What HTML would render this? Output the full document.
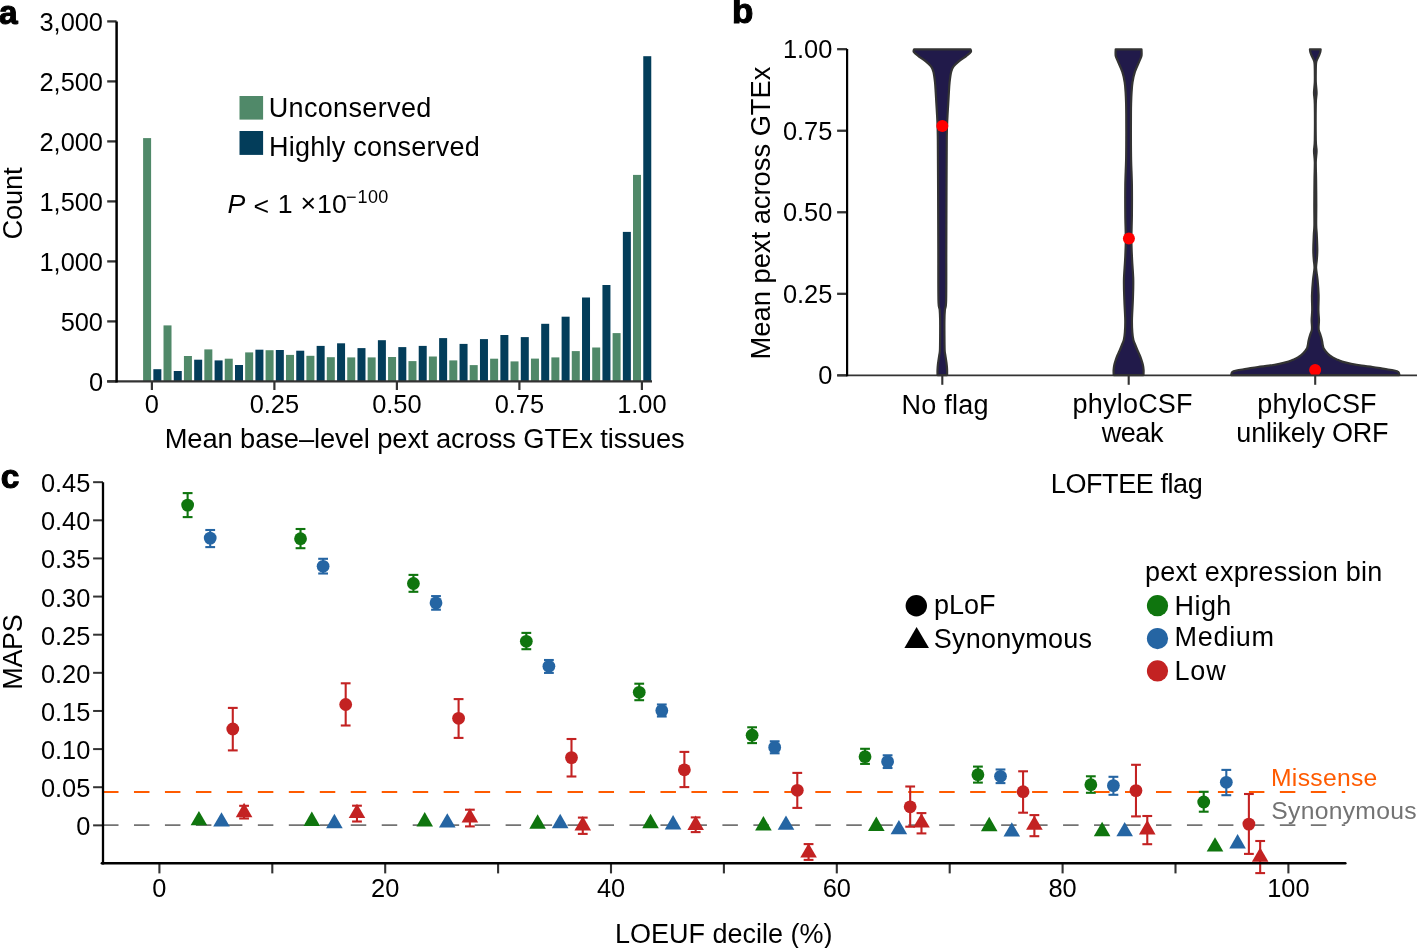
<!DOCTYPE html>
<html><head><meta charset="utf-8"><title>Figure</title>
<style>
html,body{margin:0;padding:0;background:#fff;width:1417px;height:948px;overflow:hidden;}
svg{display:block;font-family:"Liberation Sans", sans-serif;will-change:transform;}
</style></head>
<body>
<svg width="1417" height="948" viewBox="0 0 1417 948">
<rect x="0" y="0" width="1417" height="948" fill="#fff"/>
<g shape-rendering="auto">
<rect x="143.10" y="138.1" width="8.0" height="243.3" fill="#508969"/>
<rect x="153.35" y="369.2" width="8.0" height="12.2" fill="#033d5a"/>
<rect x="163.51" y="325.4" width="8.0" height="56.0" fill="#508969"/>
<rect x="173.76" y="371.0" width="8.0" height="10.4" fill="#033d5a"/>
<rect x="183.93" y="356.0" width="8.0" height="25.4" fill="#508969"/>
<rect x="194.18" y="359.7" width="8.0" height="21.7" fill="#033d5a"/>
<rect x="204.34" y="349.4" width="8.0" height="32.0" fill="#508969"/>
<rect x="214.59" y="360.4" width="8.0" height="21.0" fill="#033d5a"/>
<rect x="224.75" y="358.7" width="8.0" height="22.7" fill="#508969"/>
<rect x="235.00" y="365.0" width="8.0" height="16.4" fill="#033d5a"/>
<rect x="245.16" y="352.4" width="8.0" height="29.0" fill="#508969"/>
<rect x="255.41" y="349.7" width="8.0" height="31.7" fill="#033d5a"/>
<rect x="265.58" y="350.2" width="8.0" height="31.2" fill="#508969"/>
<rect x="275.83" y="350.0" width="8.0" height="31.4" fill="#033d5a"/>
<rect x="285.99" y="354.9" width="8.0" height="26.5" fill="#508969"/>
<rect x="296.24" y="350.7" width="8.0" height="30.7" fill="#033d5a"/>
<rect x="306.40" y="355.8" width="8.0" height="25.6" fill="#508969"/>
<rect x="316.65" y="345.9" width="8.0" height="35.5" fill="#033d5a"/>
<rect x="326.82" y="357.2" width="8.0" height="24.2" fill="#508969"/>
<rect x="337.07" y="343.3" width="8.0" height="38.1" fill="#033d5a"/>
<rect x="347.23" y="357.4" width="8.0" height="24.0" fill="#508969"/>
<rect x="357.48" y="348.1" width="8.0" height="33.3" fill="#033d5a"/>
<rect x="367.64" y="357.4" width="8.0" height="24.0" fill="#508969"/>
<rect x="377.89" y="340.2" width="8.0" height="41.2" fill="#033d5a"/>
<rect x="388.06" y="357.0" width="8.0" height="24.4" fill="#508969"/>
<rect x="398.31" y="347.1" width="8.0" height="34.3" fill="#033d5a"/>
<rect x="408.47" y="361.1" width="8.0" height="20.3" fill="#508969"/>
<rect x="418.72" y="345.9" width="8.0" height="35.5" fill="#033d5a"/>
<rect x="428.88" y="356.5" width="8.0" height="24.9" fill="#508969"/>
<rect x="439.13" y="338.1" width="8.0" height="43.3" fill="#033d5a"/>
<rect x="449.30" y="360.4" width="8.0" height="21.0" fill="#508969"/>
<rect x="459.55" y="343.9" width="8.0" height="37.5" fill="#033d5a"/>
<rect x="469.71" y="365.1" width="8.0" height="16.3" fill="#508969"/>
<rect x="479.96" y="339.1" width="8.0" height="42.3" fill="#033d5a"/>
<rect x="490.12" y="358.7" width="8.0" height="22.7" fill="#508969"/>
<rect x="500.37" y="335.0" width="8.0" height="46.4" fill="#033d5a"/>
<rect x="510.53" y="361.4" width="8.0" height="20.0" fill="#508969"/>
<rect x="520.78" y="337.1" width="8.0" height="44.3" fill="#033d5a"/>
<rect x="530.95" y="358.6" width="8.0" height="22.8" fill="#508969"/>
<rect x="541.20" y="323.8" width="8.0" height="57.6" fill="#033d5a"/>
<rect x="551.36" y="357.4" width="8.0" height="24.0" fill="#508969"/>
<rect x="561.61" y="316.7" width="8.0" height="64.7" fill="#033d5a"/>
<rect x="571.77" y="351.1" width="8.0" height="30.3" fill="#508969"/>
<rect x="582.02" y="297.5" width="8.0" height="83.9" fill="#033d5a"/>
<rect x="592.19" y="347.5" width="8.0" height="33.9" fill="#508969"/>
<rect x="602.44" y="285.0" width="8.0" height="96.4" fill="#033d5a"/>
<rect x="612.60" y="333.1" width="8.0" height="48.3" fill="#508969"/>
<rect x="622.85" y="231.9" width="8.0" height="149.5" fill="#033d5a"/>
<rect x="633.01" y="174.9" width="8.0" height="206.5" fill="#508969"/>
<rect x="643.26" y="56.2" width="8.0" height="325.2" fill="#033d5a"/>
</g>
<line x1="107.10" y1="381.40" x2="652.00" y2="381.40" stroke="#333333" stroke-width="2.4"/>
<line x1="151.90" y1="381.40" x2="151.90" y2="390.00" stroke="#333333" stroke-width="2.2"/>
<text x="151.9" y="413.4" font-size="25.4" text-anchor="middle">0</text>
<line x1="274.40" y1="381.40" x2="274.40" y2="390.00" stroke="#333333" stroke-width="2.2"/>
<text x="274.4" y="413.4" font-size="25.4" text-anchor="middle">0.25</text>
<line x1="396.90" y1="381.40" x2="396.90" y2="390.00" stroke="#333333" stroke-width="2.2"/>
<text x="396.9" y="413.4" font-size="25.4" text-anchor="middle">0.50</text>
<line x1="519.40" y1="381.40" x2="519.40" y2="390.00" stroke="#333333" stroke-width="2.2"/>
<text x="519.4" y="413.4" font-size="25.4" text-anchor="middle">0.75</text>
<line x1="641.90" y1="381.40" x2="641.90" y2="390.00" stroke="#333333" stroke-width="2.2"/>
<text x="641.9" y="413.4" font-size="25.4" text-anchor="middle">1.00</text>
<line x1="107.20" y1="381.40" x2="116.60" y2="381.40" stroke="#333333" stroke-width="2.3"/>
<text x="103.0" y="391.0" font-size="25.4" text-anchor="end">0</text>
<line x1="107.20" y1="321.40" x2="116.60" y2="321.40" stroke="#333333" stroke-width="2.3"/>
<text x="103.0" y="331.0" font-size="25.4" text-anchor="end">500</text>
<line x1="107.20" y1="261.40" x2="116.60" y2="261.40" stroke="#333333" stroke-width="2.3"/>
<text x="103.0" y="271.0" font-size="25.4" text-anchor="end">1,000</text>
<line x1="107.20" y1="201.40" x2="116.60" y2="201.40" stroke="#333333" stroke-width="2.3"/>
<text x="103.0" y="211.0" font-size="25.4" text-anchor="end">1,500</text>
<line x1="107.20" y1="141.40" x2="116.60" y2="141.40" stroke="#333333" stroke-width="2.3"/>
<text x="103.0" y="151.0" font-size="25.4" text-anchor="end">2,000</text>
<line x1="107.20" y1="81.40" x2="116.60" y2="81.40" stroke="#333333" stroke-width="2.3"/>
<text x="103.0" y="91.0" font-size="25.4" text-anchor="end">2,500</text>
<line x1="107.20" y1="21.40" x2="116.60" y2="21.40" stroke="#333333" stroke-width="2.3"/>
<text x="103.0" y="31.0" font-size="25.4" text-anchor="end">3,000</text>
<line x1="116.60" y1="21.40" x2="116.60" y2="382.60" stroke="#000" stroke-width="2.5"/>
<rect x="239.5" y="96" width="23.6" height="23.6" fill="#508969"/>
<rect x="239.5" y="131" width="23.6" height="23.9" fill="#033d5a"/>
<path d="M914.10,49.30 L970.50,49.30 C970.55,49.75 971.47,50.92 970.80,52.00 C970.13,53.08 968.45,54.28 966.50,55.80 C964.55,57.32 961.25,59.33 959.10,61.10 C956.95,62.87 954.92,64.63 953.60,66.40 C952.28,68.17 951.87,69.07 951.20,71.70 C950.53,74.33 949.99,78.68 949.60,82.20 C949.21,85.72 949.07,89.28 948.85,92.80 C948.62,96.32 948.46,99.78 948.25,103.30 C948.04,106.82 947.79,110.38 947.60,113.90 C947.41,117.42 947.24,120.05 947.10,124.40 C946.96,128.75 946.85,129.07 946.75,140.00 C946.65,150.93 946.58,171.67 946.50,190.00 C946.42,208.33 946.36,231.67 946.30,250.00 C946.24,268.33 946.38,290.00 946.15,300.00 C945.92,310.00 945.18,306.67 944.90,310.00 C944.62,313.33 944.52,315.83 944.45,320.00 C944.37,324.17 944.42,330.00 944.45,335.00 C944.48,340.00 944.51,346.67 944.65,350.00 C944.79,353.33 945.07,353.33 945.30,355.00 C945.53,356.67 945.81,358.33 946.05,360.00 C946.29,361.67 946.58,363.33 946.75,365.00 C946.92,366.67 947.04,368.32 947.10,370.00 C947.16,371.68 947.10,374.21 947.10,375.05 L937.50,375.05 C937.50,374.21 937.44,371.68 937.50,370.00 C937.56,368.32 937.67,366.67 937.85,365.00 C938.02,363.33 938.31,361.67 938.55,360.00 C938.79,358.33 939.07,356.67 939.30,355.00 C939.53,353.33 939.81,353.33 939.95,350.00 C940.09,346.67 940.12,340.00 940.15,335.00 C940.18,330.00 940.23,324.17 940.15,320.00 C940.07,315.83 939.98,313.33 939.70,310.00 C939.42,306.67 938.68,310.00 938.45,300.00 C938.22,290.00 938.36,268.33 938.30,250.00 C938.24,231.67 938.17,208.33 938.10,190.00 C938.02,171.67 937.95,150.93 937.85,140.00 C937.75,129.07 937.64,128.75 937.50,124.40 C937.36,120.05 937.19,117.42 937.00,113.90 C936.81,110.38 936.56,106.82 936.35,103.30 C936.14,99.78 935.98,96.32 935.75,92.80 C935.52,89.28 935.39,85.72 935.00,82.20 C934.61,78.68 934.07,74.33 933.40,71.70 C932.73,69.07 932.32,68.17 931.00,66.40 C929.68,64.63 927.65,62.87 925.50,61.10 C923.35,59.33 920.05,57.32 918.10,55.80 C916.15,54.28 914.47,53.08 913.80,52.00 C913.13,50.92 914.05,49.75 914.10,49.30 Z" fill="#211a4a" stroke="#333333" stroke-width="2.2" stroke-linejoin="round"/>
<path d="M1115.70,49.30 L1141.50,49.30 C1141.50,50.38 1141.85,53.83 1141.50,55.80 C1141.15,57.77 1140.49,58.45 1139.40,61.10 C1138.31,63.75 1136.10,68.18 1134.95,71.70 C1133.80,75.22 1133.07,78.68 1132.50,82.20 C1131.93,85.72 1131.78,89.28 1131.55,92.80 C1131.32,96.32 1131.20,99.78 1131.10,103.30 C1131.00,106.82 1130.98,108.62 1130.95,113.90 C1130.92,119.18 1130.87,127.32 1130.90,135.00 C1130.92,142.68 1130.93,151.67 1131.10,160.00 C1131.27,168.33 1131.77,175.83 1131.90,185.00 C1132.03,194.17 1131.98,205.83 1131.90,215.00 C1131.82,224.17 1131.37,232.50 1131.40,240.00 C1131.43,247.50 1131.79,253.33 1132.10,260.00 C1132.41,266.67 1133.12,273.33 1133.25,280.00 C1133.38,286.67 1133.07,293.33 1132.85,300.00 C1132.63,306.67 1132.04,314.67 1131.95,320.00 C1131.86,325.33 1132.06,328.67 1132.30,332.00 C1132.54,335.33 1132.90,337.83 1133.40,340.00 C1133.90,342.17 1134.64,343.33 1135.30,345.00 C1135.96,346.67 1136.63,348.33 1137.35,350.00 C1138.07,351.67 1138.91,353.33 1139.60,355.00 C1140.29,356.67 1140.95,358.33 1141.50,360.00 C1142.05,361.67 1142.55,363.33 1142.90,365.00 C1143.25,366.67 1143.50,368.32 1143.60,370.00 C1143.70,371.68 1143.52,374.21 1143.50,375.05 L1113.70,375.05 C1113.68,374.21 1113.50,371.68 1113.60,370.00 C1113.70,368.32 1113.95,366.67 1114.30,365.00 C1114.65,363.33 1115.15,361.67 1115.70,360.00 C1116.25,358.33 1116.91,356.67 1117.60,355.00 C1118.29,353.33 1119.13,351.67 1119.85,350.00 C1120.57,348.33 1121.24,346.67 1121.90,345.00 C1122.56,343.33 1123.30,342.17 1123.80,340.00 C1124.30,337.83 1124.66,335.33 1124.90,332.00 C1125.14,328.67 1125.34,325.33 1125.25,320.00 C1125.16,314.67 1124.57,306.67 1124.35,300.00 C1124.13,293.33 1123.82,286.67 1123.95,280.00 C1124.07,273.33 1124.79,266.67 1125.10,260.00 C1125.41,253.33 1125.77,247.50 1125.80,240.00 C1125.83,232.50 1125.38,224.17 1125.30,215.00 C1125.22,205.83 1125.17,194.17 1125.30,185.00 C1125.43,175.83 1125.93,168.33 1126.10,160.00 C1126.27,151.67 1126.27,142.68 1126.30,135.00 C1126.33,127.32 1126.28,119.18 1126.25,113.90 C1126.22,108.62 1126.20,106.82 1126.10,103.30 C1126.00,99.78 1125.88,96.32 1125.65,92.80 C1125.42,89.28 1125.27,85.72 1124.70,82.20 C1124.13,78.68 1123.40,75.22 1122.25,71.70 C1121.10,68.18 1118.89,63.75 1117.80,61.10 C1116.71,58.45 1116.05,57.77 1115.70,55.80 C1115.35,53.83 1115.70,50.38 1115.70,49.30 Z" fill="#211a4a" stroke="#333333" stroke-width="2.2" stroke-linejoin="round"/>
<path d="M1309.95,49.30 L1320.65,49.30 C1320.59,49.75 1320.54,51.05 1320.30,52.00 C1320.06,52.95 1319.62,54.00 1319.20,55.00 C1318.78,56.00 1318.25,57.00 1317.80,58.00 C1317.35,59.00 1316.80,60.00 1316.50,61.00 C1316.20,62.00 1316.12,62.50 1316.00,64.00 C1315.88,65.50 1315.83,67.00 1315.80,70.00 C1315.77,73.00 1315.67,78.17 1315.80,82.00 C1315.93,85.83 1316.60,89.33 1316.60,93.00 C1316.60,96.67 1315.93,96.17 1315.80,104.00 C1315.67,111.83 1315.67,132.17 1315.80,140.00 C1315.93,147.83 1316.60,147.33 1316.60,151.00 C1316.60,154.67 1315.88,157.17 1315.80,162.00 C1315.72,166.83 1316.02,172.83 1316.10,180.00 C1316.18,187.17 1316.28,197.50 1316.30,205.00 C1316.32,212.50 1316.12,220.00 1316.20,225.00 C1316.28,230.00 1316.62,230.83 1316.80,235.00 C1316.98,239.17 1317.30,245.83 1317.30,250.00 C1317.30,254.17 1317.00,257.00 1316.80,260.00 C1316.60,263.00 1315.97,264.67 1316.10,268.00 C1316.23,271.33 1317.18,275.50 1317.60,280.00 C1318.02,284.50 1318.47,290.00 1318.60,295.00 C1318.73,300.00 1318.34,305.83 1318.40,310.00 C1318.46,314.17 1318.93,317.17 1318.96,320.00 C1318.99,322.83 1318.62,325.23 1318.60,327.00 C1318.58,328.77 1318.59,329.42 1318.86,330.60 C1319.13,331.78 1319.80,332.93 1320.20,334.10 C1320.60,335.27 1320.94,336.42 1321.26,337.60 C1321.58,338.78 1321.90,340.02 1322.14,341.20 C1322.37,342.38 1322.43,343.53 1322.67,344.70 C1322.90,345.87 1323.17,347.27 1323.55,348.20 C1323.93,349.13 1324.32,349.47 1324.96,350.30 C1325.60,351.13 1326.61,352.37 1327.40,353.20 C1328.19,354.03 1328.82,354.60 1329.70,355.30 C1330.58,356.00 1331.52,356.70 1332.70,357.40 C1333.88,358.10 1335.23,358.80 1336.80,359.50 C1338.37,360.20 1339.70,360.88 1342.10,361.60 C1344.50,362.32 1347.93,363.12 1351.20,363.80 C1354.47,364.48 1358.12,365.17 1361.70,365.70 C1365.28,366.23 1368.95,366.47 1372.70,367.00 C1376.45,367.53 1380.62,368.32 1384.20,368.90 C1387.78,369.48 1391.83,369.98 1394.20,370.50 C1396.57,371.02 1397.53,371.24 1398.40,372.00 C1399.27,372.76 1399.23,374.54 1399.40,375.05 L1231.20,375.05 C1231.37,374.54 1231.33,372.76 1232.20,372.00 C1233.07,371.24 1234.03,371.02 1236.40,370.50 C1238.77,369.98 1242.82,369.48 1246.40,368.90 C1249.98,368.32 1254.15,367.53 1257.90,367.00 C1261.65,366.47 1265.32,366.23 1268.90,365.70 C1272.48,365.17 1276.13,364.48 1279.40,363.80 C1282.67,363.12 1286.10,362.32 1288.50,361.60 C1290.90,360.88 1292.23,360.20 1293.80,359.50 C1295.37,358.80 1296.72,358.10 1297.90,357.40 C1299.08,356.70 1300.02,356.00 1300.90,355.30 C1301.78,354.60 1302.41,354.03 1303.20,353.20 C1303.99,352.37 1305.00,351.13 1305.64,350.30 C1306.28,349.47 1306.67,349.13 1307.05,348.20 C1307.43,347.27 1307.70,345.87 1307.93,344.70 C1308.16,343.53 1308.23,342.38 1308.46,341.20 C1308.69,340.02 1309.02,338.78 1309.34,337.60 C1309.66,336.42 1310.00,335.27 1310.40,334.10 C1310.80,332.93 1311.47,331.78 1311.74,330.60 C1312.01,329.42 1312.02,328.77 1312.00,327.00 C1311.98,325.23 1311.61,322.83 1311.64,320.00 C1311.67,317.17 1312.14,314.17 1312.20,310.00 C1312.26,305.83 1311.87,300.00 1312.00,295.00 C1312.13,290.00 1312.58,284.50 1313.00,280.00 C1313.42,275.50 1314.37,271.33 1314.50,268.00 C1314.63,264.67 1314.00,263.00 1313.80,260.00 C1313.60,257.00 1313.30,254.17 1313.30,250.00 C1313.30,245.83 1313.62,239.17 1313.80,235.00 C1313.98,230.83 1314.32,230.00 1314.40,225.00 C1314.48,220.00 1314.28,212.50 1314.30,205.00 C1314.32,197.50 1314.42,187.17 1314.50,180.00 C1314.58,172.83 1314.88,166.83 1314.80,162.00 C1314.72,157.17 1314.00,154.67 1314.00,151.00 C1314.00,147.33 1314.67,147.83 1314.80,140.00 C1314.93,132.17 1314.93,111.83 1314.80,104.00 C1314.67,96.17 1314.00,96.67 1314.00,93.00 C1314.00,89.33 1314.67,85.83 1314.80,82.00 C1314.93,78.17 1314.83,73.00 1314.80,70.00 C1314.77,67.00 1314.72,65.50 1314.60,64.00 C1314.48,62.50 1314.40,62.00 1314.10,61.00 C1313.80,60.00 1313.25,59.00 1312.80,58.00 C1312.35,57.00 1311.82,56.00 1311.40,55.00 C1310.98,54.00 1310.54,52.95 1310.30,52.00 C1310.06,51.05 1310.01,49.75 1309.95,49.30 Z" fill="#211a4a" stroke="#333333" stroke-width="2.2" stroke-linejoin="round"/>
<circle cx="942.3" cy="126" r="6.0" fill="#ff0000"/>
<circle cx="1128.9" cy="238.4" r="6.0" fill="#ff0000"/>
<circle cx="1315.15" cy="369.9" r="6.0" fill="#ff0000"/>
<line x1="837.30" y1="375.35" x2="1417.00" y2="375.35" stroke="#333333" stroke-width="1.9"/>
<line x1="942.30" y1="375.35" x2="942.30" y2="384.80" stroke="#333333" stroke-width="2.1"/>
<line x1="1128.70" y1="375.35" x2="1128.70" y2="384.80" stroke="#333333" stroke-width="2.1"/>
<line x1="1315.20" y1="375.35" x2="1315.20" y2="384.80" stroke="#333333" stroke-width="2.1"/>
<line x1="837.10" y1="375.35" x2="847.10" y2="375.35" stroke="#333333" stroke-width="2.3"/>
<text x="832.3" y="384.4" font-size="25.4" text-anchor="end">0</text>
<line x1="837.10" y1="293.81" x2="847.10" y2="293.81" stroke="#333333" stroke-width="2.3"/>
<text x="832.3" y="302.8" font-size="25.4" text-anchor="end">0.25</text>
<line x1="837.10" y1="212.27" x2="847.10" y2="212.27" stroke="#333333" stroke-width="2.3"/>
<text x="832.3" y="221.3" font-size="25.4" text-anchor="end">0.50</text>
<line x1="837.10" y1="130.73" x2="847.10" y2="130.73" stroke="#333333" stroke-width="2.3"/>
<text x="832.3" y="139.7" font-size="25.4" text-anchor="end">0.75</text>
<line x1="837.10" y1="49.19" x2="847.10" y2="49.19" stroke="#333333" stroke-width="2.3"/>
<text x="832.3" y="58.2" font-size="25.4" text-anchor="end">1.00</text>
<line x1="847.10" y1="49.10" x2="847.10" y2="376.35" stroke="#000" stroke-width="2.2"/>
<line x1="103.00" y1="792.00" x2="1345.20" y2="792.00" stroke="#ff5b00" stroke-width="2.2" stroke-dasharray="15.5 15.47"/>
<line x1="103.00" y1="825.10" x2="1345.20" y2="825.10" stroke="#737373" stroke-width="1.9" stroke-dasharray="15.5 15.47"/>
<line x1="187.62" y1="493.10" x2="187.62" y2="517.10" stroke="#0f750e" stroke-width="2.1"/>
<line x1="182.72" y1="493.10" x2="192.53" y2="493.10" stroke="#0f750e" stroke-width="2.1"/>
<line x1="182.72" y1="517.10" x2="192.53" y2="517.10" stroke="#0f750e" stroke-width="2.1"/>
<circle cx="187.62" cy="505.10" r="6.4" fill="#0f750e"/>
<line x1="210.20" y1="530.00" x2="210.20" y2="547.10" stroke="#2565a3" stroke-width="2.1"/>
<line x1="205.30" y1="530.00" x2="215.10" y2="530.00" stroke="#2565a3" stroke-width="2.1"/>
<line x1="205.30" y1="547.10" x2="215.10" y2="547.10" stroke="#2565a3" stroke-width="2.1"/>
<circle cx="210.20" cy="538.10" r="6.4" fill="#2565a3"/>
<line x1="232.78" y1="707.90" x2="232.78" y2="750.40" stroke="#c32222" stroke-width="2.1"/>
<line x1="227.88" y1="707.90" x2="237.69" y2="707.90" stroke="#c32222" stroke-width="2.1"/>
<line x1="227.88" y1="750.40" x2="237.69" y2="750.40" stroke="#c32222" stroke-width="2.1"/>
<circle cx="232.78" cy="729.00" r="6.4" fill="#c32222"/>
<polygon points="198.92,810.90 207.22,825.30 190.62,825.30" fill="#0f750e"/>
<polygon points="221.50,812.20 229.80,826.60 213.19,826.60" fill="#2565a3"/>
<line x1="244.07" y1="805.80" x2="244.07" y2="818.50" stroke="#c32222" stroke-width="2.1"/>
<line x1="239.17" y1="805.80" x2="248.97" y2="805.80" stroke="#c32222" stroke-width="2.1"/>
<line x1="239.17" y1="818.50" x2="248.97" y2="818.50" stroke="#c32222" stroke-width="2.1"/>
<polygon points="244.07,802.80 252.38,817.20 235.77,817.20" fill="#c32222"/>
<line x1="300.52" y1="529.00" x2="300.52" y2="548.20" stroke="#0f750e" stroke-width="2.1"/>
<line x1="295.62" y1="529.00" x2="305.42" y2="529.00" stroke="#0f750e" stroke-width="2.1"/>
<line x1="295.62" y1="548.20" x2="305.42" y2="548.20" stroke="#0f750e" stroke-width="2.1"/>
<circle cx="300.52" cy="538.70" r="6.4" fill="#0f750e"/>
<line x1="323.11" y1="558.80" x2="323.11" y2="573.50" stroke="#2565a3" stroke-width="2.1"/>
<line x1="318.21" y1="558.80" x2="328.00" y2="558.80" stroke="#2565a3" stroke-width="2.1"/>
<line x1="318.21" y1="573.50" x2="328.00" y2="573.50" stroke="#2565a3" stroke-width="2.1"/>
<circle cx="323.11" cy="566.30" r="6.4" fill="#2565a3"/>
<line x1="345.69" y1="683.30" x2="345.69" y2="725.50" stroke="#c32222" stroke-width="2.1"/>
<line x1="340.79" y1="683.30" x2="350.58" y2="683.30" stroke="#c32222" stroke-width="2.1"/>
<line x1="340.79" y1="725.50" x2="350.58" y2="725.50" stroke="#c32222" stroke-width="2.1"/>
<circle cx="345.69" cy="704.50" r="6.4" fill="#c32222"/>
<polygon points="311.81,811.60 320.12,826.00 303.51,826.00" fill="#0f750e"/>
<polygon points="334.39,813.80 342.69,828.20 326.09,828.20" fill="#2565a3"/>
<line x1="356.98" y1="805.70" x2="356.98" y2="821.50" stroke="#c32222" stroke-width="2.1"/>
<line x1="352.08" y1="805.70" x2="361.88" y2="805.70" stroke="#c32222" stroke-width="2.1"/>
<line x1="352.08" y1="821.50" x2="361.88" y2="821.50" stroke="#c32222" stroke-width="2.1"/>
<polygon points="356.98,803.70 365.28,818.10 348.68,818.10" fill="#c32222"/>
<line x1="413.42" y1="574.90" x2="413.42" y2="591.80" stroke="#0f750e" stroke-width="2.1"/>
<line x1="408.52" y1="574.90" x2="418.32" y2="574.90" stroke="#0f750e" stroke-width="2.1"/>
<line x1="408.52" y1="591.80" x2="418.32" y2="591.80" stroke="#0f750e" stroke-width="2.1"/>
<circle cx="413.42" cy="583.50" r="6.4" fill="#0f750e"/>
<line x1="436.00" y1="596.10" x2="436.00" y2="609.70" stroke="#2565a3" stroke-width="2.1"/>
<line x1="431.11" y1="596.10" x2="440.90" y2="596.10" stroke="#2565a3" stroke-width="2.1"/>
<line x1="431.11" y1="609.70" x2="440.90" y2="609.70" stroke="#2565a3" stroke-width="2.1"/>
<circle cx="436.00" cy="602.90" r="6.4" fill="#2565a3"/>
<line x1="458.59" y1="699.10" x2="458.59" y2="737.90" stroke="#c32222" stroke-width="2.1"/>
<line x1="453.69" y1="699.10" x2="463.49" y2="699.10" stroke="#c32222" stroke-width="2.1"/>
<line x1="453.69" y1="737.90" x2="463.49" y2="737.90" stroke="#c32222" stroke-width="2.1"/>
<circle cx="458.59" cy="718.30" r="6.4" fill="#c32222"/>
<polygon points="424.72,812.00 433.02,826.40 416.42,826.40" fill="#0f750e"/>
<polygon points="447.29,813.20 455.59,827.60 438.99,827.60" fill="#2565a3"/>
<line x1="469.88" y1="809.70" x2="469.88" y2="826.40" stroke="#c32222" stroke-width="2.1"/>
<line x1="464.98" y1="809.70" x2="474.77" y2="809.70" stroke="#c32222" stroke-width="2.1"/>
<line x1="464.98" y1="826.40" x2="474.77" y2="826.40" stroke="#c32222" stroke-width="2.1"/>
<polygon points="469.88,808.20 478.18,822.60 461.57,822.60" fill="#c32222"/>
<line x1="526.32" y1="632.90" x2="526.32" y2="649.20" stroke="#0f750e" stroke-width="2.1"/>
<line x1="521.42" y1="632.90" x2="531.22" y2="632.90" stroke="#0f750e" stroke-width="2.1"/>
<line x1="521.42" y1="649.20" x2="531.22" y2="649.20" stroke="#0f750e" stroke-width="2.1"/>
<circle cx="526.32" cy="641.30" r="6.4" fill="#0f750e"/>
<line x1="548.90" y1="660.00" x2="548.90" y2="672.90" stroke="#2565a3" stroke-width="2.1"/>
<line x1="544.00" y1="660.00" x2="553.80" y2="660.00" stroke="#2565a3" stroke-width="2.1"/>
<line x1="544.00" y1="672.90" x2="553.80" y2="672.90" stroke="#2565a3" stroke-width="2.1"/>
<circle cx="548.90" cy="666.30" r="6.4" fill="#2565a3"/>
<line x1="571.49" y1="739.00" x2="571.49" y2="776.50" stroke="#c32222" stroke-width="2.1"/>
<line x1="566.59" y1="739.00" x2="576.38" y2="739.00" stroke="#c32222" stroke-width="2.1"/>
<line x1="566.59" y1="776.50" x2="576.38" y2="776.50" stroke="#c32222" stroke-width="2.1"/>
<circle cx="571.49" cy="757.60" r="6.4" fill="#c32222"/>
<polygon points="537.62,814.30 545.91,828.70 529.32,828.70" fill="#0f750e"/>
<polygon points="560.19,813.80 568.49,828.20 551.89,828.20" fill="#2565a3"/>
<line x1="582.77" y1="817.60" x2="582.77" y2="833.90" stroke="#c32222" stroke-width="2.1"/>
<line x1="577.88" y1="817.60" x2="587.67" y2="817.60" stroke="#c32222" stroke-width="2.1"/>
<line x1="577.88" y1="833.90" x2="587.67" y2="833.90" stroke="#c32222" stroke-width="2.1"/>
<polygon points="582.77,816.10 591.07,830.50 574.48,830.50" fill="#c32222"/>
<line x1="639.23" y1="683.70" x2="639.23" y2="700.20" stroke="#0f750e" stroke-width="2.1"/>
<line x1="634.33" y1="683.70" x2="644.12" y2="683.70" stroke="#0f750e" stroke-width="2.1"/>
<line x1="634.33" y1="700.20" x2="644.12" y2="700.20" stroke="#0f750e" stroke-width="2.1"/>
<circle cx="639.23" cy="692.30" r="6.4" fill="#0f750e"/>
<line x1="661.80" y1="704.50" x2="661.80" y2="716.50" stroke="#2565a3" stroke-width="2.1"/>
<line x1="656.90" y1="704.50" x2="666.70" y2="704.50" stroke="#2565a3" stroke-width="2.1"/>
<line x1="656.90" y1="716.50" x2="666.70" y2="716.50" stroke="#2565a3" stroke-width="2.1"/>
<circle cx="661.80" cy="710.60" r="6.4" fill="#2565a3"/>
<line x1="684.38" y1="751.90" x2="684.38" y2="787.10" stroke="#c32222" stroke-width="2.1"/>
<line x1="679.49" y1="751.90" x2="689.28" y2="751.90" stroke="#c32222" stroke-width="2.1"/>
<line x1="679.49" y1="787.10" x2="689.28" y2="787.10" stroke="#c32222" stroke-width="2.1"/>
<circle cx="684.38" cy="769.80" r="6.4" fill="#c32222"/>
<polygon points="650.51,813.80 658.81,828.20 642.22,828.20" fill="#0f750e"/>
<polygon points="673.09,815.00 681.39,829.40 664.79,829.40" fill="#2565a3"/>
<line x1="695.67" y1="817.40" x2="695.67" y2="832.10" stroke="#c32222" stroke-width="2.1"/>
<line x1="690.77" y1="817.40" x2="700.57" y2="817.40" stroke="#c32222" stroke-width="2.1"/>
<line x1="690.77" y1="832.10" x2="700.57" y2="832.10" stroke="#c32222" stroke-width="2.1"/>
<polygon points="695.67,815.60 703.97,830.00 687.38,830.00" fill="#c32222"/>
<line x1="752.12" y1="727.30" x2="752.12" y2="743.10" stroke="#0f750e" stroke-width="2.1"/>
<line x1="747.22" y1="727.30" x2="757.02" y2="727.30" stroke="#0f750e" stroke-width="2.1"/>
<line x1="747.22" y1="743.10" x2="757.02" y2="743.10" stroke="#0f750e" stroke-width="2.1"/>
<circle cx="752.12" cy="735.20" r="6.4" fill="#0f750e"/>
<line x1="774.70" y1="741.30" x2="774.70" y2="753.30" stroke="#2565a3" stroke-width="2.1"/>
<line x1="769.80" y1="741.30" x2="779.60" y2="741.30" stroke="#2565a3" stroke-width="2.1"/>
<line x1="769.80" y1="753.30" x2="779.60" y2="753.30" stroke="#2565a3" stroke-width="2.1"/>
<circle cx="774.70" cy="747.40" r="6.4" fill="#2565a3"/>
<line x1="797.28" y1="772.90" x2="797.28" y2="807.90" stroke="#c32222" stroke-width="2.1"/>
<line x1="792.38" y1="772.90" x2="802.18" y2="772.90" stroke="#c32222" stroke-width="2.1"/>
<line x1="792.38" y1="807.90" x2="802.18" y2="807.90" stroke="#c32222" stroke-width="2.1"/>
<circle cx="797.28" cy="790.30" r="6.4" fill="#c32222"/>
<polygon points="763.41,816.10 771.71,830.50 755.12,830.50" fill="#0f750e"/>
<polygon points="785.99,815.40 794.29,829.80 777.69,829.80" fill="#2565a3"/>
<line x1="808.57" y1="844.10" x2="808.57" y2="859.90" stroke="#c32222" stroke-width="2.1"/>
<line x1="803.67" y1="844.10" x2="813.47" y2="844.10" stroke="#c32222" stroke-width="2.1"/>
<line x1="803.67" y1="859.90" x2="813.47" y2="859.90" stroke="#c32222" stroke-width="2.1"/>
<polygon points="808.57,843.20 816.87,857.60 800.27,857.60" fill="#c32222"/>
<line x1="865.02" y1="748.80" x2="865.02" y2="763.90" stroke="#0f750e" stroke-width="2.1"/>
<line x1="860.12" y1="748.80" x2="869.92" y2="748.80" stroke="#0f750e" stroke-width="2.1"/>
<line x1="860.12" y1="763.90" x2="869.92" y2="763.90" stroke="#0f750e" stroke-width="2.1"/>
<circle cx="865.02" cy="756.70" r="6.4" fill="#0f750e"/>
<line x1="887.60" y1="755.30" x2="887.60" y2="768.00" stroke="#2565a3" stroke-width="2.1"/>
<line x1="882.70" y1="755.30" x2="892.50" y2="755.30" stroke="#2565a3" stroke-width="2.1"/>
<line x1="882.70" y1="768.00" x2="892.50" y2="768.00" stroke="#2565a3" stroke-width="2.1"/>
<circle cx="887.60" cy="761.60" r="6.4" fill="#2565a3"/>
<line x1="910.18" y1="786.50" x2="910.18" y2="826.70" stroke="#c32222" stroke-width="2.1"/>
<line x1="905.28" y1="786.50" x2="915.08" y2="786.50" stroke="#c32222" stroke-width="2.1"/>
<line x1="905.28" y1="826.70" x2="915.08" y2="826.70" stroke="#c32222" stroke-width="2.1"/>
<circle cx="910.18" cy="806.80" r="6.4" fill="#c32222"/>
<polygon points="876.31,816.60 884.61,831.00 868.01,831.00" fill="#0f750e"/>
<polygon points="898.89,819.90 907.19,834.30 890.59,834.30" fill="#2565a3"/>
<line x1="921.47" y1="813.10" x2="921.47" y2="833.40" stroke="#c32222" stroke-width="2.1"/>
<line x1="916.57" y1="813.10" x2="926.37" y2="813.10" stroke="#c32222" stroke-width="2.1"/>
<line x1="916.57" y1="833.40" x2="926.37" y2="833.40" stroke="#c32222" stroke-width="2.1"/>
<polygon points="921.47,813.20 929.77,827.60 913.17,827.60" fill="#c32222"/>
<line x1="977.92" y1="766.60" x2="977.92" y2="782.60" stroke="#0f750e" stroke-width="2.1"/>
<line x1="973.02" y1="766.60" x2="982.82" y2="766.60" stroke="#0f750e" stroke-width="2.1"/>
<line x1="973.02" y1="782.60" x2="982.82" y2="782.60" stroke="#0f750e" stroke-width="2.1"/>
<circle cx="977.92" cy="774.70" r="6.4" fill="#0f750e"/>
<line x1="1000.50" y1="769.50" x2="1000.50" y2="783.10" stroke="#2565a3" stroke-width="2.1"/>
<line x1="995.60" y1="769.50" x2="1005.40" y2="769.50" stroke="#2565a3" stroke-width="2.1"/>
<line x1="995.60" y1="783.10" x2="1005.40" y2="783.10" stroke="#2565a3" stroke-width="2.1"/>
<circle cx="1000.50" cy="776.30" r="6.4" fill="#2565a3"/>
<line x1="1023.08" y1="771.30" x2="1023.08" y2="812.70" stroke="#c32222" stroke-width="2.1"/>
<line x1="1018.18" y1="771.30" x2="1027.98" y2="771.30" stroke="#c32222" stroke-width="2.1"/>
<line x1="1018.18" y1="812.70" x2="1027.98" y2="812.70" stroke="#c32222" stroke-width="2.1"/>
<circle cx="1023.08" cy="791.70" r="6.4" fill="#c32222"/>
<polygon points="989.21,816.80 997.51,831.20 980.91,831.20" fill="#0f750e"/>
<polygon points="1011.79,822.20 1020.09,836.60 1003.50,836.60" fill="#2565a3"/>
<line x1="1034.38" y1="815.10" x2="1034.38" y2="836.20" stroke="#c32222" stroke-width="2.1"/>
<line x1="1029.47" y1="815.10" x2="1039.28" y2="815.10" stroke="#c32222" stroke-width="2.1"/>
<line x1="1029.47" y1="836.20" x2="1039.28" y2="836.20" stroke="#c32222" stroke-width="2.1"/>
<polygon points="1034.38,815.40 1042.67,829.80 1026.08,829.80" fill="#c32222"/>
<line x1="1090.83" y1="776.30" x2="1090.83" y2="792.80" stroke="#0f750e" stroke-width="2.1"/>
<line x1="1085.92" y1="776.30" x2="1095.73" y2="776.30" stroke="#0f750e" stroke-width="2.1"/>
<line x1="1085.92" y1="792.80" x2="1095.73" y2="792.80" stroke="#0f750e" stroke-width="2.1"/>
<circle cx="1090.83" cy="784.70" r="6.4" fill="#0f750e"/>
<line x1="1113.40" y1="776.80" x2="1113.40" y2="794.80" stroke="#2565a3" stroke-width="2.1"/>
<line x1="1108.50" y1="776.80" x2="1118.31" y2="776.80" stroke="#2565a3" stroke-width="2.1"/>
<line x1="1108.50" y1="794.80" x2="1118.31" y2="794.80" stroke="#2565a3" stroke-width="2.1"/>
<circle cx="1113.40" cy="785.60" r="6.4" fill="#2565a3"/>
<line x1="1135.98" y1="764.80" x2="1135.98" y2="816.40" stroke="#c32222" stroke-width="2.1"/>
<line x1="1131.08" y1="764.80" x2="1140.88" y2="764.80" stroke="#c32222" stroke-width="2.1"/>
<line x1="1131.08" y1="816.40" x2="1140.88" y2="816.40" stroke="#c32222" stroke-width="2.1"/>
<circle cx="1135.98" cy="790.60" r="6.4" fill="#c32222"/>
<polygon points="1102.12,821.80 1110.41,836.20 1093.82,836.20" fill="#0f750e"/>
<polygon points="1124.69,821.90 1132.99,836.30 1116.39,836.30" fill="#2565a3"/>
<line x1="1147.27" y1="816.00" x2="1147.27" y2="844.20" stroke="#c32222" stroke-width="2.1"/>
<line x1="1142.37" y1="816.00" x2="1152.17" y2="816.00" stroke="#c32222" stroke-width="2.1"/>
<line x1="1142.37" y1="844.20" x2="1152.17" y2="844.20" stroke="#c32222" stroke-width="2.1"/>
<polygon points="1147.27,820.10 1155.57,834.50 1138.97,834.50" fill="#c32222"/>
<line x1="1203.72" y1="791.80" x2="1203.72" y2="811.70" stroke="#0f750e" stroke-width="2.1"/>
<line x1="1198.82" y1="791.80" x2="1208.62" y2="791.80" stroke="#0f750e" stroke-width="2.1"/>
<line x1="1198.82" y1="811.70" x2="1208.62" y2="811.70" stroke="#0f750e" stroke-width="2.1"/>
<circle cx="1203.72" cy="802.00" r="6.4" fill="#0f750e"/>
<line x1="1226.31" y1="769.90" x2="1226.31" y2="795.20" stroke="#2565a3" stroke-width="2.1"/>
<line x1="1221.40" y1="769.90" x2="1231.21" y2="769.90" stroke="#2565a3" stroke-width="2.1"/>
<line x1="1221.40" y1="795.20" x2="1231.21" y2="795.20" stroke="#2565a3" stroke-width="2.1"/>
<circle cx="1226.31" cy="782.30" r="6.4" fill="#2565a3"/>
<line x1="1248.88" y1="794.00" x2="1248.88" y2="853.90" stroke="#c32222" stroke-width="2.1"/>
<line x1="1243.98" y1="794.00" x2="1253.79" y2="794.00" stroke="#c32222" stroke-width="2.1"/>
<line x1="1243.98" y1="853.90" x2="1253.79" y2="853.90" stroke="#c32222" stroke-width="2.1"/>
<circle cx="1248.88" cy="824.10" r="6.4" fill="#c32222"/>
<polygon points="1215.02,837.20 1223.32,851.60 1206.72,851.60" fill="#0f750e"/>
<polygon points="1237.60,834.00 1245.89,848.40 1229.30,848.40" fill="#2565a3"/>
<line x1="1260.17" y1="841.00" x2="1260.17" y2="873.10" stroke="#c32222" stroke-width="2.1"/>
<line x1="1255.27" y1="841.00" x2="1265.08" y2="841.00" stroke="#c32222" stroke-width="2.1"/>
<line x1="1255.27" y1="873.10" x2="1265.08" y2="873.10" stroke="#c32222" stroke-width="2.1"/>
<polygon points="1260.17,847.40 1268.47,861.80 1251.88,861.80" fill="#c32222"/>
<line x1="93.10" y1="825.35" x2="103.00" y2="825.35" stroke="#333333" stroke-width="2.0"/>
<text x="90.3" y="835.4" font-size="25.4" text-anchor="end">0</text>
<line x1="93.10" y1="787.22" x2="103.00" y2="787.22" stroke="#333333" stroke-width="2.0"/>
<text x="90.3" y="797.2" font-size="25.4" text-anchor="end">0.05</text>
<line x1="93.10" y1="749.09" x2="103.00" y2="749.09" stroke="#333333" stroke-width="2.0"/>
<text x="90.3" y="759.1" font-size="25.4" text-anchor="end">0.10</text>
<line x1="93.10" y1="710.96" x2="103.00" y2="710.96" stroke="#333333" stroke-width="2.0"/>
<text x="90.3" y="721.0" font-size="25.4" text-anchor="end">0.15</text>
<line x1="93.10" y1="672.83" x2="103.00" y2="672.83" stroke="#333333" stroke-width="2.0"/>
<text x="90.3" y="682.8" font-size="25.4" text-anchor="end">0.20</text>
<line x1="93.10" y1="634.70" x2="103.00" y2="634.70" stroke="#333333" stroke-width="2.0"/>
<text x="90.3" y="644.7" font-size="25.4" text-anchor="end">0.25</text>
<line x1="93.10" y1="596.57" x2="103.00" y2="596.57" stroke="#333333" stroke-width="2.0"/>
<text x="90.3" y="606.6" font-size="25.4" text-anchor="end">0.30</text>
<line x1="93.10" y1="558.44" x2="103.00" y2="558.44" stroke="#333333" stroke-width="2.0"/>
<text x="90.3" y="568.4" font-size="25.4" text-anchor="end">0.35</text>
<line x1="93.10" y1="520.31" x2="103.00" y2="520.31" stroke="#333333" stroke-width="2.0"/>
<text x="90.3" y="530.3" font-size="25.4" text-anchor="end">0.40</text>
<line x1="93.10" y1="482.18" x2="103.00" y2="482.18" stroke="#333333" stroke-width="2.0"/>
<text x="90.3" y="492.2" font-size="25.4" text-anchor="end">0.45</text>
<line x1="159.40" y1="863.30" x2="159.40" y2="873.40" stroke="#333333" stroke-width="2.1"/>
<text x="159.4" y="897.4" font-size="25.4" text-anchor="middle">0</text>
<line x1="272.30" y1="863.30" x2="272.30" y2="873.40" stroke="#333333" stroke-width="2.1"/>
<line x1="385.20" y1="863.30" x2="385.20" y2="873.40" stroke="#333333" stroke-width="2.1"/>
<text x="385.2" y="897.4" font-size="25.4" text-anchor="middle">20</text>
<line x1="498.10" y1="863.30" x2="498.10" y2="873.40" stroke="#333333" stroke-width="2.1"/>
<line x1="611.00" y1="863.30" x2="611.00" y2="873.40" stroke="#333333" stroke-width="2.1"/>
<text x="611.0" y="897.4" font-size="25.4" text-anchor="middle">40</text>
<line x1="723.90" y1="863.30" x2="723.90" y2="873.40" stroke="#333333" stroke-width="2.1"/>
<line x1="836.80" y1="863.30" x2="836.80" y2="873.40" stroke="#333333" stroke-width="2.1"/>
<text x="836.8" y="897.4" font-size="25.4" text-anchor="middle">60</text>
<line x1="949.70" y1="863.30" x2="949.70" y2="873.40" stroke="#333333" stroke-width="2.1"/>
<line x1="1062.60" y1="863.30" x2="1062.60" y2="873.40" stroke="#333333" stroke-width="2.1"/>
<text x="1062.6" y="897.4" font-size="25.4" text-anchor="middle">80</text>
<line x1="1175.50" y1="863.30" x2="1175.50" y2="873.40" stroke="#333333" stroke-width="2.1"/>
<line x1="1288.40" y1="863.30" x2="1288.40" y2="873.40" stroke="#333333" stroke-width="2.1"/>
<text x="1288.4" y="897.4" font-size="25.4" text-anchor="middle">100</text>
<line x1="101.80" y1="863.30" x2="1345.40" y2="863.30" stroke="#000" stroke-width="2.4" stroke-linecap="round"/>
<line x1="103.00" y1="482.18" x2="103.00" y2="864.40" stroke="#000" stroke-width="2.3"/>
<circle cx="916.3" cy="605.7" r="10.7" fill="#000"/>
<polygon points="916.6,627 929,648 904.4,648" fill="#000"/>
<circle cx="1157.5" cy="605.7" r="10.6" fill="#0f750e"/>
<circle cx="1157.5" cy="638.6" r="10.6" fill="#2565a3"/>
<circle cx="1157.5" cy="670.9" r="10.6" fill="#c32222"/>
<text x="-1.10" y="23.90" font-size="33.5" font-weight="bold" stroke="#000" stroke-width="1.1" stroke-linejoin="round">a</text>
<text x="732.10" y="23.10" font-size="35" font-weight="bold" stroke="#000" stroke-width="1.1" stroke-linejoin="round">b</text>
<text x="0.80" y="487.70" font-size="33.5" font-weight="bold" stroke="#000" stroke-width="1.1" stroke-linejoin="round">c</text>
<text x="164.70" y="448.20" font-size="27.3" textLength="519.94" lengthAdjust="spacing">Mean base–level pext across GTEx tissues</text>
<text transform="translate(22.05,203.35) rotate(-90)" font-size="27.3" text-anchor="middle" textLength="72.14" lengthAdjust="spacing">Count</text>
<text x="268.70" y="117.10" font-size="27" textLength="162.59" lengthAdjust="spacing">Unconserved</text>
<text x="268.90" y="155.50" font-size="27" textLength="210.81" lengthAdjust="spacing">Highly conserved</text>
<text x="227.60" y="212.80" font-size="26.7" font-style="italic">P</text>
<text x="253.60" y="214.80" font-size="26.7">&lt;</text>
<text x="277.70" y="212.80" font-size="26.7">1</text>
<text x="300.60" y="212.40" font-size="26.7">×</text>
<text x="317.10" y="212.80" font-size="26.7">10</text>
<text x="346.00" y="203.20" font-size="18" textLength="11.12" lengthAdjust="spacing">−</text>
<text x="357.50" y="203.40" font-size="18" textLength="30.85" lengthAdjust="spacing">100</text>
<text transform="translate(770.40,213.00) rotate(-90)" font-size="27.3" text-anchor="middle">Mean pext across GTEx</text>
<text x="945.10" y="414.00" font-size="27" text-anchor="middle" textLength="86.96" lengthAdjust="spacing">No flag</text>
<text x="1132.55" y="413.10" font-size="27" text-anchor="middle" textLength="120.05" lengthAdjust="spacing">phyloCSF</text>
<text x="1132.55" y="442.20" font-size="27" text-anchor="middle" textLength="61.73" lengthAdjust="spacing">weak</text>
<text x="1316.95" y="413.10" font-size="27" text-anchor="middle" textLength="119.25" lengthAdjust="spacing">phyloCSF</text>
<text x="1312.45" y="442.20" font-size="27" text-anchor="middle" textLength="152.25" lengthAdjust="spacing">unlikely ORF</text>
<text x="1126.75" y="493.00" font-size="27" text-anchor="middle" textLength="151.96" lengthAdjust="spacing">LOFTEE flag</text>
<text transform="translate(21.75,652.00) rotate(-90)" font-size="27" text-anchor="middle" textLength="75.53" lengthAdjust="spacing">MAPS</text>
<text x="723.75" y="943.00" font-size="27" text-anchor="middle">LOEUF decile (%)</text>
<text x="1271.00" y="785.60" font-size="24.7" fill="#ff5b00" textLength="106.28" lengthAdjust="spacing">Missense</text>
<text x="1271.30" y="818.90" font-size="24.7" fill="#737373" textLength="145.22" lengthAdjust="spacing">Synonymous</text>
<text x="934.00" y="614.30" font-size="27">pLoF</text>
<text x="933.80" y="647.60" font-size="27" textLength="158.29" lengthAdjust="spacing">Synonymous</text>
<text x="1144.90" y="580.50" font-size="27" textLength="237.44" lengthAdjust="spacing">pext expression bin</text>
<text x="1174.60" y="615.10" font-size="27" textLength="56.73" lengthAdjust="spacing">High</text>
<text x="1174.60" y="646.40" font-size="27" textLength="99.43" lengthAdjust="spacing">Medium</text>
<text x="1174.60" y="679.80" font-size="27" textLength="51.03" lengthAdjust="spacing">Low</text>
</svg>
</body></html>
